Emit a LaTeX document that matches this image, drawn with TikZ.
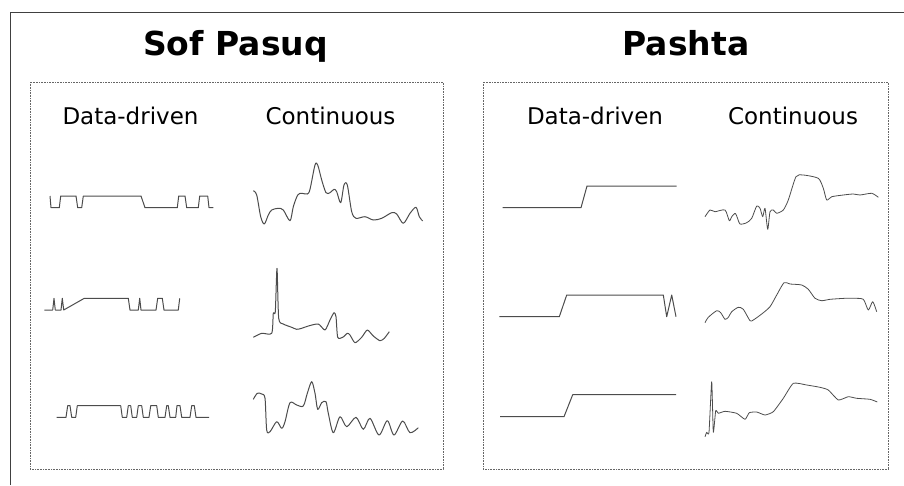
\documentclass[tikz,border=0pt]{standalone}
\usepackage{fontspec}
\setmainfont{DejaVu Sans}
\tikzset{
    sig/.style={draw=black!70, line width=1pt, line join=round},
    panel/.style={draw=black!60, densely dotted, line width=0.6pt},
    heading/.style={anchor=base, font=\fontsize{33}{38}\selectfont\bfseries},
    kind/.style={anchor=base, font=\fontsize{23}{27}\selectfont}
}
\begin{document}
\begin{tikzpicture}[x=1pt,y=-1pt]
    \useasboundingbox (0,0) rectangle (904,485);
    \draw[black!75, line width=1pt] (10.5,485) -- (10.5,12.5) -- (904,12.5);

    \draw[panel] (30,82) rectangle (443,469);
    \draw[panel] (483,82) rectangle (888,469);

    \node[heading] (sof) at (235.5,55) {Sof Pasuq};
    \node[heading] (pashta) at (686,55) {Pashta};
    \node[kind] (sofdata) at (130.5,124) {Data-driven};
    \node[kind] (sofcont) at (330.5,124) {Continuous};
    \node[kind] (pashdata) at (595,124) {Data-driven};
    \node[kind] (pashcont) at (793,124) {Continuous};

    % Sof Pasuq, data-driven
    \draw[sig] plot coordinates {(50,196) (51,207.7) (59.3,207.7) (60.7,196) (76,196) (77.7,207.7) (81.7,207.7) (83.3,196) (141,196) (145,207.7) (177.3,207.7) (178.7,196) (185,196) (186.7,207.7) (198.3,207.7) (199.7,196) (207.7,196) (209,207.7) (213.3,207.7)};
    \draw[sig] plot coordinates {(44.3,310) (52.7,310) (54,298.3) (55.3,310) (61,310) (62.3,298.3) (63.7,310) (84.3,298.3) (128.3,298.3) (130,310) (138.3,310) (139.7,298.3) (141,310) (156,310) (157.7,298.3) (162.3,298.3) (164,310) (178.3,310) (179.7,298.3)};
    \draw[sig] plot coordinates {(56.7,417.3) (66,417.3) (67.7,405.7) (70,405.7) (71.7,417.3) (75.7,417.3) (77.3,405.7) (120.7,405.7) (122.3,417.3) (126.7,417.3) (128.3,405.7) (130.7,405.7) (132.3,417.3) (136.7,417.3) (138.3,405.7) (141.7,405.7) (143.3,417.3) (149,417.3) (150.7,405.7) (156.7,405.7) (158.3,417.3) (165,417.3) (166.7,405.7) (168.3,405.7) (170,417.3) (175.7,417.3) (177,405.7) (180,405.7) (181.7,417.3) (190,417.3) (191.7,405.7) (194.3,405.7) (196,417.3) (209,417.3)};

    % Sof Pasuq, continuous
    \draw[sig] plot [smooth, tension=0.5] coordinates {(253.3,190.7) (256.7,195) (260.7,216.7) (264.3,224) (268.3,215) (271.7,210) (278.3,208.3) (283.3,210) (290,220.7) (293.3,206.7) (297.7,195) (301.7,193.3) (307.3,194) (310,189.3) (315,165) (317.7,165) (321.7,180) (326,192.7) (330,192.7) (334,189.3) (336.7,191.7) (340.7,202.7) (344,185) (347.3,185) (351.7,211.7) (356,218.3) (365,216.7) (373.3,220) (381.7,218.3) (391.7,212.7) (396.7,214) (403.3,223.3) (410,213.3) (416,207.3) (419.3,216.7) (422.7,221)};
    \draw[sig] plot [smooth, tension=0.4] coordinates {(253.3,337.3) (261.7,333.3) (271.7,333.3) (273.3,313.3) (275.3,311.7) (277,268.3) (278.7,318.3) (283.3,324) (291.7,327.3) (296.7,329.3) (301.7,328.3) (308.3,326) (318.3,324) (325,330) (330,320) (334,312.7) (336,316.7) (337.7,337.3) (342.7,337.3) (347.3,333.3) (350,335) (355,342.7) (361.7,337.3) (367.3,330) (373.3,336) (380,340.7) (384.3,338.3) (389.3,331.7)};
    \draw[sig] plot [smooth, tension=0.5] coordinates {(253.3,399.3) (257.3,393.3) (261.7,394) (265,398.3) (266.7,430) (270,431.7) (276.7,421.7) (281.7,428.3) (285,421.7) (290,402.7) (296.7,405) (303.3,406) (307.3,393.3) (311.7,381.7) (315,393.3) (317.7,409.3) (321.7,402.7) (326,401.7) (328.3,413.3) (333.3,432.7) (340,416.7) (346.7,426.7) (356,417.3) (363.3,429.3) (370,418.3) (379,435) (387.3,420.7) (394,435) (402.7,421) (410,432.7) (418.3,427.7)};

    % Pashta, data-driven
    \draw[sig] plot coordinates {(502.7,207.7) (581,207.7) (587,186) (676.7,186)};
    \draw[sig] plot coordinates {(499.3,316.7) (559.3,316.7) (566.7,295) (663.3,295) (666.7,316.7) (671.7,295) (676,316.7)};
    \draw[sig] plot coordinates {(500,416.7) (564,416.7) (572.7,394.7) (676,394.7)};

    % Pashta, continuous
    \draw[sig, line width=0.8pt] plot [smooth, tension=0.4] coordinates {(705,216.7) (710,210) (715,211.7) (725,210) (729.3,220.7) (731.7,216.7) (735,213.3) (736.7,216) (740,224) (746.7,222.7) (751.7,218.3) (756.7,206) (760,208.3) (762.7,216.7) (765,208.3) (767.7,229.3) (770,211.7) (773.3,210) (776.7,213.3) (783.3,210) (788.3,200) (796,176.7) (803.3,175) (818.3,178.3) (823.3,188.3) (826.7,200) (831.7,196.7) (843.3,195) (853.3,194) (860,195) (871.7,193.3) (878.3,197.3)};
    \draw[sig, line width=0.8pt] plot [smooth, tension=0.4] coordinates {(705,322.7) (708.3,317.3) (716.7,310.7) (720.7,312.7) (725,319.3) (728.3,317.3) (731.7,311.7) (738.3,307.3) (743.3,309.3) (750,320.7) (753.3,320) (761.7,314) (770,306.7) (776.7,295) (784,282.7) (790,284) (801.7,285) (808.3,289.3) (815,298.3) (821.7,300.7) (830,299.3) (845,298.3) (853.3,298.3) (863.3,299.3) (868.3,310) (872.7,301.7) (876.7,311.7)};
    \draw[sig, line width=0.8pt] plot [smooth, tension=0.3] coordinates {(705,436.7) (706.7,432.3) (709,432.3) (711.7,381.7) (713.3,432.3) (715.7,410.7) (718.3,413.3) (725,411.3) (736.7,413.3) (745,419.3) (749.3,412.7) (756.7,412) (765,415) (773.3,411.7) (783.3,398.3) (793.3,383.3) (806.7,385) (820,387.3) (828.3,390) (838.3,400) (848.3,396.7) (856.7,398.3) (870,399.3) (877.3,402)};
\end{tikzpicture}
\end{document}
